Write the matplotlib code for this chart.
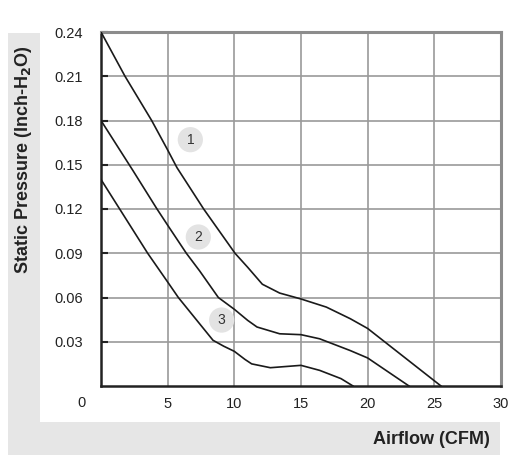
import matplotlib
matplotlib.use("Agg")
from matplotlib import pyplot as plt
from matplotlib.patches import Rectangle

plt.rcParams['font.family'] = ['Liberation Sans', 'DejaVu Sans']

# curve 1
flow_1 = [0, 1.8, 3.8, 5.0, 5.7, 7.7, 10.05, 11.0, 12.1, 13.4, 15.0, 16.9, 18.7, 20.0, 25.5]
pres_1 = [0.24, 0.21, 0.18, 0.16, 0.148, 0.12, 0.09, 0.0805, 0.069, 0.063, 0.059, 0.0535, 0.0456, 0.039, 0.0]
# curve 2
flow_2 = [0, 2.4, 4.2, 5.0, 6.4, 7.4, 8.8, 10.0, 11.0, 11.7, 13.4, 15.0, 16.4, 18.7, 20.0, 23.1]
pres_2 = [0.18, 0.146, 0.12, 0.109, 0.09, 0.078, 0.06, 0.052, 0.0445, 0.040, 0.0354, 0.0348, 0.032, 0.024, 0.019, 0.0]
# curve 3
flow_3 = [0, 1.4, 3.5, 5.0, 5.8, 8.4, 9.2, 10.0, 10.8, 11.3, 12.7, 15.0, 16.4, 18.0, 18.9]
pres_3 = [0.14, 0.12, 0.09, 0.0705, 0.06, 0.031, 0.027, 0.0235, 0.018, 0.015, 0.0124, 0.014, 0.0106, 0.005, 0.0]

curve_tags = ['1', '2', '3']
tag_x = [6.7, 7.3, 9.05]
tag_y = [0.167, 0.101, 0.0447]

x_ticks = [5, 10, 15, 20, 25, 30]
y_ticks = [0.03, 0.06, 0.09, 0.12, 0.15, 0.18, 0.21, 0.24]

fig = plt.figure(figsize=(5.14, 4.68), dpi=100)

# grey L-shaped band behind the axis titles
band = '#e6e6e6'
fig.patches.append(Rectangle((8 / 514, 13 / 468), 32 / 514, 422 / 468,
                             transform=fig.transFigure, fc=band, ec='none', zorder=0))
fig.patches.append(Rectangle((8 / 514, 13 / 468), 492 / 514, 33 / 468,
                             transform=fig.transFigure, fc=band, ec='none', zorder=0))

ax = fig.add_axes([101 / 514, 1 - 386 / 468, 400 / 514, 354 / 468])
ax.set_xlim(0, 30)
ax.set_ylim(0, 0.24)

ax.grid(True, color='#9a9a9a', linewidth=1.2)
ax.set_axisbelow(True)

for side in ['top', 'right']:
    ax.spines[side].set_color('#8c8c8c')
    ax.spines[side].set_linewidth(2.2)
for side in ['left', 'bottom']:
    ax.spines[side].set_color('#222222')
    ax.spines[side].set_linewidth(1.8)

for q, p in [(flow_1, pres_1), (flow_2, pres_2), (flow_3, pres_3)]:
    ax.plot(q, p, color='#1a1a1a', linewidth=1.2, zorder=3)

ax.scatter(tag_x, tag_y, s=330, color='#e3e3e3', edgecolors='none', zorder=2)
for t, xx, yy in zip(curve_tags, tag_x, tag_y):
    ax.text(xx, yy, t, ha='center', va='center', fontsize=10, color='#333333', zorder=4)

ax.set_xticks(x_ticks)
ax.set_xticklabels([str(v) for v in x_ticks])
ax.set_yticks(y_ticks)
ax.set_yticklabels(['%.2f' % v for v in y_ticks])
ax.tick_params(axis='x', length=0, pad=8, labelsize=10.5, colors='#222222')
ax.tick_params(axis='y', direction='in', length=5, width=1.5, color='#222222',
               pad=13, labelsize=10.5, labelcolor='#222222')

# origin label
fig.text(82 / 514, 1 - 403 / 468, '0', ha='center', va='center', fontsize=10.5, color='#222222')

fig.text(24 / 514, 1 - 160 / 468, 'Static Pressure (Inch-H$_\\mathbf{2}$O)', rotation=90,
         ha='center', va='center', fontsize=13, fontweight='bold', color='#222222')
fig.text(490 / 514, 1 - 440 / 468, 'Airflow (CFM)', ha='right', va='center',
         fontsize=13, fontweight='bold', color='#222222')

fig.savefig('out.png', dpi=100)
